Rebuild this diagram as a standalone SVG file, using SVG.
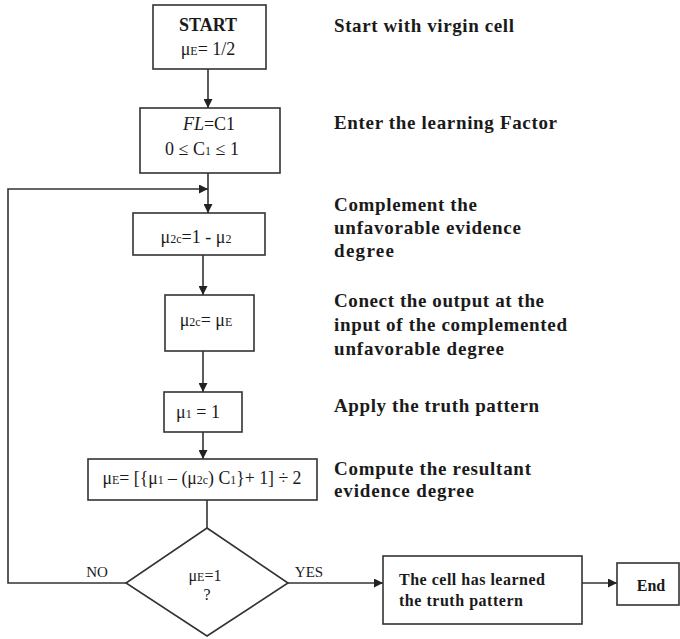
<svg xmlns="http://www.w3.org/2000/svg" width="680" height="639" viewBox="0 0 680 639">
<defs>
<style>
.box{fill:#fff;stroke:#333;stroke-width:1.6}
.ln{fill:none;stroke:#333;stroke-width:1.6}
.t{font-family:"Liberation Serif","Times New Roman",serif;fill:#1a1a1a}
.b{font-weight:bold}
.c{text-anchor:middle}
.s{font-size:12px}
.r{font-size:19px;font-weight:bold}
</style>
<marker id="ah" viewBox="0 0 10 10" refX="10" refY="5" markerWidth="10" markerHeight="9" markerUnits="userSpaceOnUse" orient="auto">
<path d="M0,0 L10,5 L0,10 z" fill="#222"/>
</marker>
</defs>
<rect width="680" height="639" fill="#fff"/>

<g id="connectors">
<line class="ln" x1="208" y1="69" x2="208" y2="108" marker-end="url(#ah)"/>
<line class="ln" x1="208" y1="173" x2="208" y2="213" marker-end="url(#ah)"/>
<polyline class="ln" points="126,583 8,583 8,189 208,189" marker-end="url(#ah)"/>
<line class="ln" x1="203" y1="255" x2="203" y2="295" marker-end="url(#ah)"/>
<line class="ln" x1="203" y1="351" x2="203" y2="392" marker-end="url(#ah)"/>
<line class="ln" x1="203" y1="432" x2="203" y2="459" marker-end="url(#ah)"/>
<line class="ln" x1="207" y1="500" x2="207" y2="528"/>
<line class="ln" x1="288" y1="583" x2="383" y2="583" marker-end="url(#ah)"/>
<line class="ln" x1="582" y1="583" x2="617" y2="583" marker-end="url(#ah)"/>
<text class="t" x="97" y="577" font-size="15" text-anchor="middle">NO</text>
<text class="t" x="309" y="577" font-size="15" text-anchor="middle">YES</text>
</g>

<g id="start">
<rect class="box" x="153" y="5" width="113" height="64"/>
<text class="t b c" x="208" y="31" font-size="18">START</text>
<text class="t c" x="208" y="55" font-size="18">μ<tspan class="s">E</tspan>= 1/2</text>
</g>

<g id="factor">
<rect class="box" x="140" y="108" width="140" height="65"/>
<text class="t c" x="209" y="130" font-size="18"><tspan font-style="italic">FL</tspan>=C1</text>
<text class="t c" x="202" y="155" font-size="18">0 ≤ C<tspan class="s">1</tspan> ≤ 1</text>
</g>

<g id="complement">
<rect class="box" x="133" y="213" width="132" height="42"/>
<text class="t c" x="196" y="243" font-size="18">μ<tspan class="s">2c</tspan>=1 - μ<tspan class="s">2</tspan></text>
</g>

<g id="connect">
<rect class="box" x="165" y="295" width="89" height="56"/>
<text class="t c" x="206" y="326" font-size="18">μ<tspan class="s">2c</tspan>= μ<tspan class="s">E</tspan></text>
</g>

<g id="truth">
<rect class="box" x="164" y="392" width="78" height="40"/>
<text class="t c" x="198" y="418" font-size="18">μ<tspan class="s">1</tspan> = 1</text>
</g>

<g id="compute">
<rect class="box" x="88" y="459" width="229" height="41"/>
<text class="t c" x="202" y="484" font-size="18" textLength="199" lengthAdjust="spacingAndGlyphs">μ<tspan class="s">E</tspan>= [{μ<tspan class="s">1</tspan> – (μ<tspan class="s">2c</tspan>) C<tspan class="s">1</tspan>}+ 1] ÷ 2</text>
</g>

<g id="decision">
<polygon class="box" points="207,528 288,583 207,636 126,583"/>
<text class="t c" x="205" y="581" font-size="16">μ<tspan class="s">E</tspan>=1</text>
<text class="t c" x="207" y="600" font-size="16">?</text>
</g>

<g id="learned">
<rect class="box" x="383" y="556" width="199" height="68"/>
<text class="t b" x="399" y="585" font-size="16" textLength="146" lengthAdjust="spacing">The cell has learned</text>
<text class="t b" x="399" y="606" font-size="16" textLength="124" lengthAdjust="spacing">the truth  pattern</text>
</g>

<g id="end">
<rect class="box" x="617" y="563" width="62" height="42"/>
<text class="t b c" x="651" y="591" font-size="16">End</text>
</g>

<g id="notes">
<text class="t r" x="334" y="32" textLength="180" lengthAdjust="spacing">Start with virgin cell</text>
<text class="t r" x="334" y="129" textLength="223" lengthAdjust="spacing">Enter the learning Factor</text>
<text class="t r" x="334" y="211" textLength="143" lengthAdjust="spacing">Complement the</text>
<text class="t r" x="334" y="234" textLength="187" lengthAdjust="spacing">unfavorable evidence</text>
<text class="t r" x="334" y="257" textLength="60" lengthAdjust="spacing">degree</text>
<text class="t r" x="334" y="307" textLength="210" lengthAdjust="spacing">Conect the output at the</text>
<text class="t r" x="334" y="331" textLength="233" lengthAdjust="spacing">input of the complemented</text>
<text class="t r" x="334" y="355" textLength="170" lengthAdjust="spacing">unfavorable degree</text>
<text class="t r" x="334" y="412" textLength="205" lengthAdjust="spacing">Apply the truth pattern</text>
<text class="t r" x="334" y="475" textLength="197" lengthAdjust="spacing">Compute the resultant</text>
<text class="t r" x="334" y="497" textLength="140" lengthAdjust="spacing">evidence degree</text>
</g>
</svg>
